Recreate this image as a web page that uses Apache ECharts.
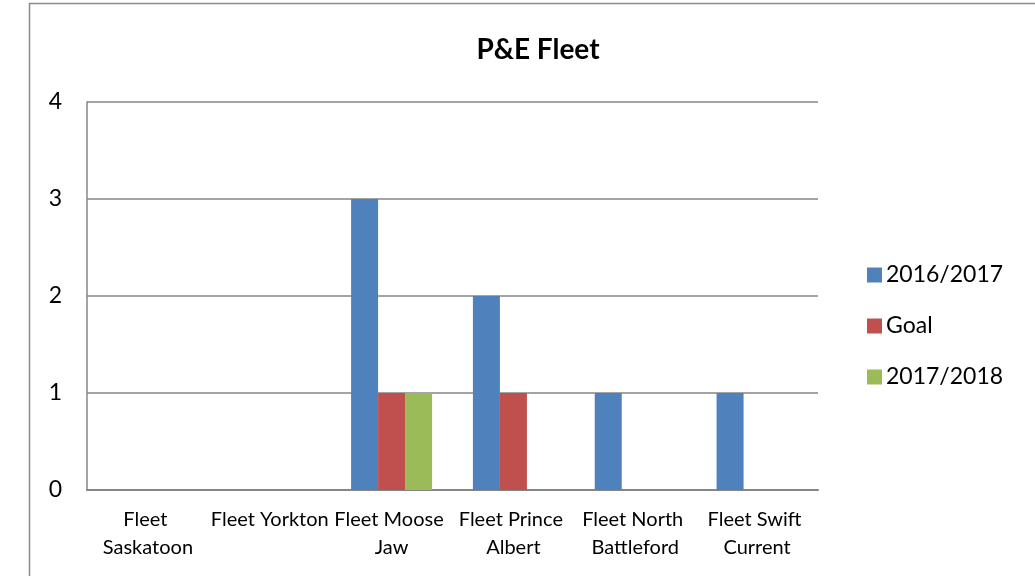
<!DOCTYPE html>
<html><head><meta charset="utf-8">
<script src="https://cdn.jsdelivr.net/npm/echarts@6/dist/echarts.min.js"></script>
<style>html,body{margin:0;padding:0;background:#fff}#c{width:1035px;height:576px}</style>
</head><body><div id="c"></div>
<script>
const categories = ["Fleet Saskatoon", "Fleet Yorkton", "Fleet Moose Jaw", "Fleet Prince Albert", "Fleet North Battleford", "Fleet Swift Current"];
const s2016 = [0, 0, 3, 2, 1, 1];
const sGoal = [0, 0, 1, 1, 0, 0];
const s2017 = [0, 0, 1, 0, 0, 0];
const seriesNames = ["2016/2017", "Goal", "2017/2018"];
const yTicks = {min: 0, max: 4, interval: 1};

const FONT = 'Lato';
const chart = echarts.init(document.getElementById('c'), null, {renderer: 'canvas'});
const mk = (name, data, color) => ({
  name, type: 'bar', data, barWidth: 27, barGap: '0%',
  itemStyle: {color}, emphasis: {disabled: true}
});
chart.setOption({
  animation: false,
  textStyle: {fontFamily: FONT},
  graphic: [{type: 'rect', shape: {x: 29.5, y: 3.5, width: 1020, height: 590}, style: {fill: 'none', stroke: '#8c8c8c', lineWidth: 1.5}, silent: true}],
  title: {text: 'P&E Fleet', left: 533, top: 31, textAlign: 'center',
    textStyle: {fontFamily: FONT, fontSize: 28, fontWeight: 'bold', color: '#000'}},
  grid: {left: 87, top: 102, width: 731, bottom: 86, containLabel: false},
  legend: {orient: 'vertical', left: 862, top: 258, itemWidth: 15, itemHeight: 15, itemGap: 27,
    icon: 'rect', textStyle: {fontFamily: FONT, fontSize: 23, lineHeight: 24, color: '#000', padding: [0,0,0,-1]},
    data: seriesNames},
  xAxis: {type: 'category', data: categories,
    axisLine: {lineStyle: {color: '#868686', width: 2}}, axisTick: {show: false},
    axisLabel: {interval: 0, fontFamily: FONT, fontSize: 20, color: '#000', margin: 16, width: 122, overflow: 'break', lineHeight: 28}},
  yAxis: {type: 'value', min: yTicks.min, max: yTicks.max, interval: yTicks.interval,
    axisLine: {show: true, lineStyle: {color: '#868686', width: 1.5}}, axisTick: {show: false},
    splitLine: {lineStyle: {color: '#868686', width: 1.5}},
    axisLabel: {fontFamily: FONT, fontSize: 23, color: '#000', margin: 25}},
  series: [mk(seriesNames[0], s2016, '#4f81bd'), mk(seriesNames[1], sGoal, '#c0504d'), mk(seriesNames[2], s2017, '#9bbb59')]
});
</script></body></html>
